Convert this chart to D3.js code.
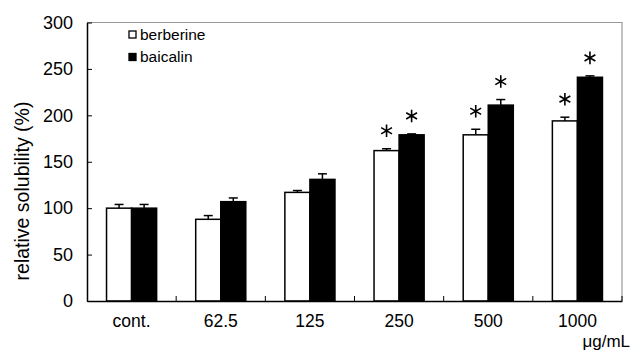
<!DOCTYPE html>
<html>
<head>
<meta charset="utf-8">
<script src="https://cdn.jsdelivr.net/npm/d3@7"></script>
<style>
  body { margin: 0; background: #fff; }
  text { font-family: "Liberation Sans", Arial, sans-serif; fill: #000; }
</style>
</head>
<body>
<div id="chart"></div>
<script>
// values
var categories = ['cont.', '62.5', '125', '250', '500', '1000'];
var seriesNames = ['berberine', 'baicalin'];
var berberine = [100, 88, 117, 162, 179, 194];
var berberineErr = [4, 4, 2, 2, 6, 4];
var baicalin = [100, 107, 131, 179, 211, 241];
var baicalinErr = [4, 4, 6, 1, 6, 1.5];
var berberineSig = [false, false, false, true, true, true];
var baicalinSig = [false, false, false, true, true, true];
var yTicks = [0, 50, 100, 150, 200, 250, 300];

var width = 633, height = 354;
// plot box (note: "top" is taken by window.top, so prefix these)
var plotLeft = 87, plotRight = 622, plotTop = 22.5, plotBottom = 301;

var rows = [];
categories.forEach(function(c, i) {
  rows.push({cat: c, s: 'berberine', v: berberine[i], e: berberineErr[i], sig: berberineSig[i]});
  rows.push({cat: c, s: 'baicalin', v: baicalin[i], e: baicalinErr[i], sig: baicalinSig[i]});
});

var svg = d3.select('#chart').append('svg')
  .attr('width', width)
  .attr('height', height);

var x0 = d3.scaleBand().domain(categories).range([plotLeft, plotRight]).padding(0);
var x1 = d3.scaleBand().domain(seriesNames).range([0, x0.bandwidth()]).paddingInner(0).paddingOuter(0.78);
var y = d3.scaleLinear().domain([0, 300]).range([plotBottom, plotTop]);
var fill = {berberine: '#fff', baicalin: '#000'};

function barMid(d) { return x0(d.cat) + x1(d.s) + x1.bandwidth() / 2; }

// top and right frame (grey)
svg.append('path')
  .attr('d', 'M' + plotLeft + ',' + plotTop + 'H' + plotRight + 'V' + plotBottom)
  .attr('fill', 'none')
  .attr('stroke', '#999')
  .attr('stroke-width', 1.2);

// bars
svg.append('g').selectAll('rect')
  .data(rows)
  .join('rect')
    .attr('x', function(d) { return x0(d.cat) + x1(d.s); })
    .attr('y', function(d) { return y(d.v); })
    .attr('width', x1.bandwidth())
    .attr('height', function(d) { return y(0) - y(d.v); })
    .attr('fill', function(d) { return fill[d.s]; })
    .attr('stroke', '#000')
    .attr('stroke-width', 1.5);

// error bars (upper only)
var err = svg.append('g').attr('stroke', '#000').attr('stroke-width', 1.5);
err.selectAll('line.v')
  .data(rows)
  .join('line')
    .attr('class', 'v')
    .attr('x1', barMid)
    .attr('x2', barMid)
    .attr('y1', function(d) { return y(d.v); })
    .attr('y2', function(d) { return y(d.v + d.e); });
err.selectAll('line.cap')
  .data(rows)
  .join('line')
    .attr('class', 'cap')
    .attr('x1', function(d) { return barMid(d) - 4.5; })
    .attr('x2', function(d) { return barMid(d) + 4.5; })
    .attr('y1', function(d) { return y(d.v + d.e); })
    .attr('y2', function(d) { return y(d.v + d.e); });

// significance asterisks
svg.append('g').selectAll('path')
  .data(rows.filter(function(d) { return d.sig; }))
  .join('path')
    .attr('d', d3.symbol(d3.symbolAsterisk).size(110))
    .attr('transform', function(d) {
      return 'translate(' + barMid(d) + ',' + (y(d.v + d.e) - 18) + ')';
    })
    .attr('fill', 'none')
    .attr('stroke', '#000')
    .attr('stroke-width', 1.6);

// y axis
var yAxis = svg.append('g')
  .attr('transform', 'translate(' + plotLeft + ',0)')
  .call(d3.axisLeft(y).tickValues(yTicks).tickSizeInner(-5).tickSizeOuter(0).tickPadding(14));
yAxis.select('.domain').attr('stroke', '#000').attr('stroke-width', 1.5);
yAxis.selectAll('.tick line').attr('stroke', '#000');
yAxis.selectAll('text').style('font-size', '18px').attr('fill', '#000');

// x axis
var xAxis = svg.append('g')
  .attr('transform', 'translate(0,' + plotBottom + ')')
  .call(d3.axisBottom(x0).tickSize(0).tickPadding(14));
xAxis.select('.domain').attr('stroke', '#000').attr('stroke-width', 1.5);
xAxis.selectAll('text').style('font-size', '17.5px').attr('fill', '#000');

// category separator ticks (pointing up)
var sepX = categories.slice(1).map(function(c) { return x0(c); }).concat([plotRight]);
svg.append('g').selectAll('line')
  .data(sepX)
  .join('line')
    .attr('x1', function(d) { return d; })
    .attr('x2', function(d) { return d; })
    .attr('y1', plotBottom)
    .attr('y2', plotBottom - 5)
    .attr('stroke', '#000')
    .attr('stroke-width', 1);

// axis titles
svg.append('text')
  .attr('transform', 'translate(22,191) rotate(-90)')
  .attr('text-anchor', 'middle')
  .attr('dy', '0.35em')
  .style('font-size', '19.5px')
  .text('relative solubility (%)');

svg.append('text')
  .attr('x', 630)
  .attr('y', 347)
  .attr('text-anchor', 'end')
  .style('font-size', '17px')
  .text('μg/mL');

// legend
var legend = svg.append('g').selectAll('g')
  .data(seriesNames)
  .join('g')
    .attr('transform', function(d, i) { return 'translate(129,' + (31 + i * 22.5) + ')'; });
legend.append('rect')
  .attr('width', 7)
  .attr('height', 7)
  .attr('fill', function(d) { return fill[d]; })
  .attr('stroke', '#000')
  .attr('stroke-width', 1.3);
legend.append('text')
  .attr('x', 11)
  .attr('y', 8.5)
  .style('font-size', '15.5px')
  .text(function(d) { return d; });
</script>
</body>
</html>
